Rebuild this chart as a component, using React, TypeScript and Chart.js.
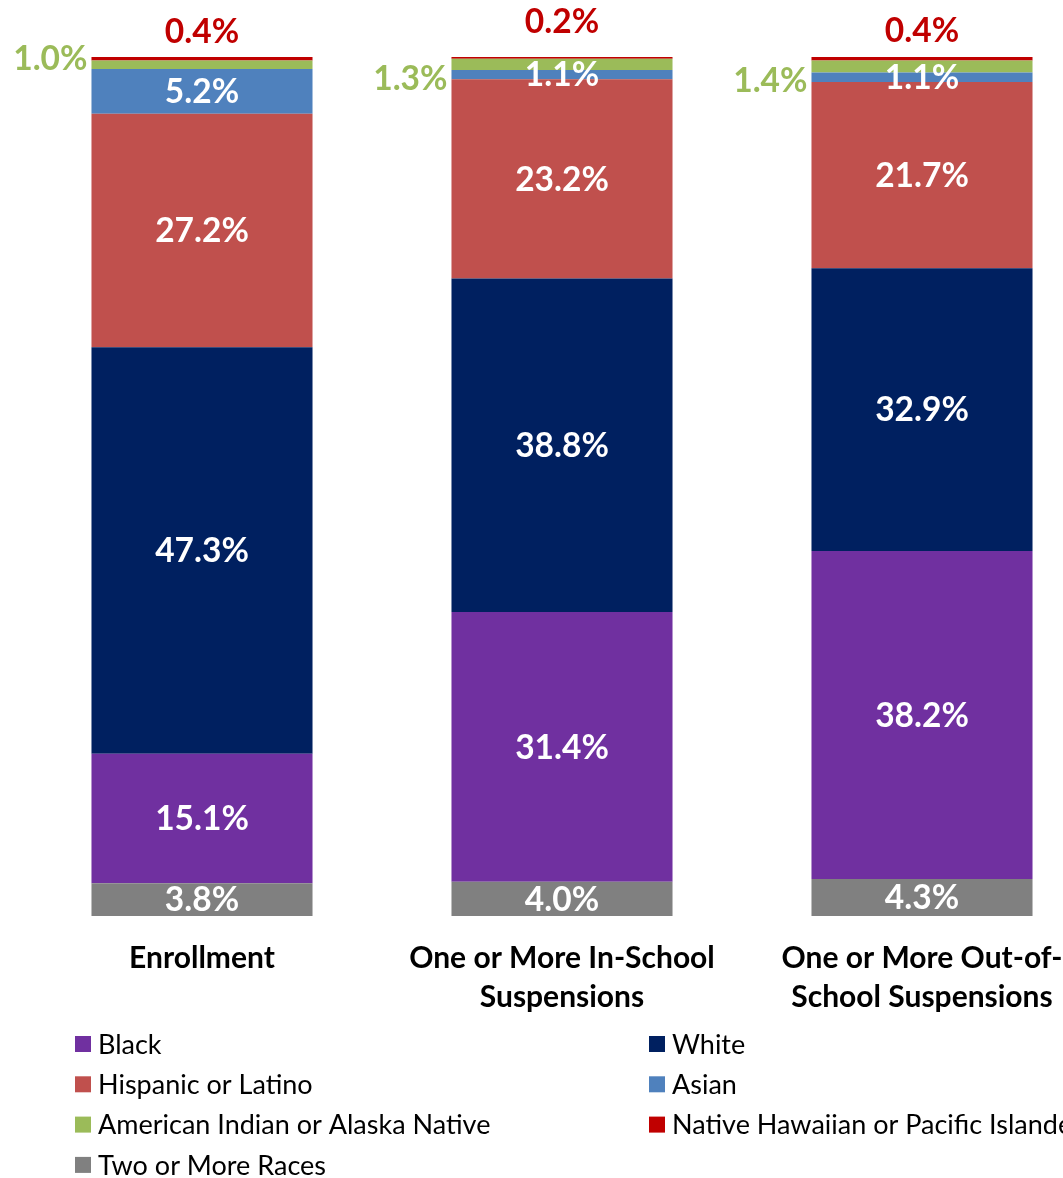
import React, { useEffect, useRef } from "react";
import { Chart, registerables } from "chart.js";

Chart.register(...registerables);

const categories: string[][] = [
  ["Enrollment"],
  ["One or More In-School", "Suspensions"],
  ["One or More Out-of-", "School Suspensions"],
];

const seriesNames = [
  "Two or More Races",
  "Black",
  "White",
  "Hispanic or Latino",
  "Asian",
  "American Indian or Alaska Native",
  "Native Hawaiian or Pacific Islander",
];

const twoOrMore = [3.8, 4.0, 4.3];
const black = [15.1, 31.4, 38.2];
const white = [47.3, 38.8, 32.9];
const hispanic = [27.2, 23.2, 21.7];
const asian = [5.2, 1.1, 1.1];
const amIndian = [1.0, 1.3, 1.4];
const nhpi = [0.4, 0.2, 0.4];

const seriesValues = [twoOrMore, black, white, hispanic, asian, amIndian, nhpi];
const seriesColors = ["#808080", "#7030A0", "#002060", "#C0504D", "#4F81BD", "#9BBB59", "#C00000"];

// label placement per series: inside the segment, to the left of the bar, or above the bar
const labelPos = ["inside", "inside", "inside", "inside", "inside", "left", "top"];
const labelColors = ["#FFFFFF", "#FFFFFF", "#FFFFFF", "#FFFFFF", "#FFFFFF", "#9BBB59", "#C00000"];
const leftLabelDy = [-7, 14, 14];
const topLabelDy = [-26, -36, -27];

// legend order (indices into series)
const legendOrder = [1, 2, 3, 4, 5, 6, 0];

const FONT = "Lato, 'Open Sans', sans-serif";

const segLabels = {
  id: "segLabels",
  afterDatasetsDraw(chart: any) {
    const ctx = chart.ctx;
    ctx.save();
    ctx.font = `bold 33.5px ${FONT}`;
    ctx.textBaseline = "middle";
    chart.data.datasets.forEach((ds: any, di: number) => {
      const meta = chart.getDatasetMeta(di);
      meta.data.forEach((el: any, i: number) => {
        const v = ds.data[i];
        const p = el.getProps(["x", "y", "base", "width"], true);
        const mid = (p.y + p.base) / 2;
        let tx = p.x;
        let ty = mid;
        ctx.textAlign = "center";
        if (labelPos[di] === "left") {
          tx = p.x - p.width / 2 - 4;
          ty = mid + leftLabelDy[i];
          ctx.textAlign = "right";
        } else if (labelPos[di] === "top") {
          ty = p.y + topLabelDy[i];
        }
        ctx.fillStyle = labelColors[di];
        ctx.fillText(v.toFixed(1) + "%", tx, ty + 1);
      });
    });
    ctx.restore();
  },
};

const customLegend = {
  id: "customLegend",
  afterDraw(chart: any) {
    const ctx = chart.ctx;
    ctx.save();
    ctx.font = `27px ${FONT}`;
    ctx.textBaseline = "middle";
    ctx.textAlign = "left";
    const colX = [67, 641];
    const rowY0 = 1036;
    const rowStep = 40.3;
    legendOrder.forEach((si, k) => {
      const col = k % 2;
      const row = Math.floor(k / 2);
      const x = colX[col];
      const y = rowY0 + row * rowStep;
      ctx.fillStyle = seriesColors[si];
      ctx.fillRect(x, y - 8, 16, 16);
      ctx.fillStyle = "#000000";
      ctx.fillText(chart.data.datasets[si].label, x + 23, y + 1);
    });
    ctx.restore();
  },
};

export default function App() {
  const ref = useRef<HTMLCanvasElement>(null);
  useEffect(() => {
    document.documentElement.style.overflow = "hidden";
    document.body.style.marginRight = "0px";
    if (!ref.current) return;
    const chart = new Chart(ref.current, {
      type: "bar",
      data: {
        labels: categories as any,
        datasets: seriesValues.map((vals, i) => ({
          label: seriesNames[i],
          data: vals,
          backgroundColor: seriesColors[i],
          borderWidth: 0,
          barPercentage: 0.614,
          categoryPercentage: 1,
        })),
      },
      options: {
        responsive: false,
        animation: false,
        layout: { padding: { left: 14, right: 6, top: 49, bottom: 154 } },
        plugins: {
          legend: { display: false },
          tooltip: { enabled: false },
        },
        scales: {
          x: {
            stacked: true,
            grid: { display: false },
            border: { display: false },
            ticks: {
              color: "#000000",
              padding: 15,
              font: { family: FONT, size: 30, weight: "bold", lineHeight: 1.3 },
              maxRotation: 0,
              autoSkip: false,
            },
          },
          y: {
            stacked: true,
            display: false,
            min: 0,
            max: 100,
          },
        },
      },
      plugins: [segLabels, customLegend],
    });
    return () => chart.destroy();
  }, []);
  return (
    <div style={{ width: 1100, height: 1178, overflow: "hidden" }}>
      <canvas ref={ref} width={1100} height={1178} style={{ display: "block" }} />
    </div>
  );
}
